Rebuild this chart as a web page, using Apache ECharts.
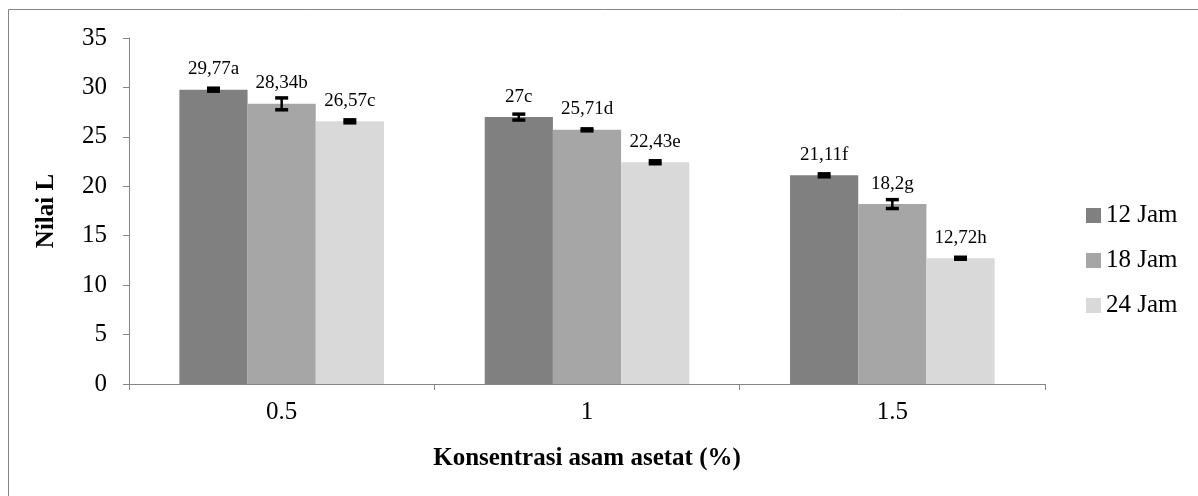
<!DOCTYPE html>
<html>
<head>
<meta charset="utf-8">
<script src="https://cdn.jsdelivr.net/npm/echarts@6/dist/echarts.min.js"></script>
<style>html,body{margin:0;padding:0;background:#fff}#c{width:1198px;height:496px}</style>
</head>
<body>
<div id="c"></div>
<script>
const categories = ['0.5', '1', '1.5'];
const seriesNames = ['12 Jam', '18 Jam', '24 Jam'];
const values12 = [29.77, 27, 21.11];
const values18 = [28.34, 25.71, 18.2];
const values24 = [26.57, 22.43, 12.72];
const errors12 = [0.15, 0.3, 0.15];
const errors18 = [0.6, 0.1, 0.45];
const errors24 = [0.15, 0.15, 0.1];
const labels12 = ['29,77a', '27c', '21,11f'];
const labels18 = ['28,34b', '25,71d', '18,2g'];
const labels24 = ['26,57c', '22,43e', '12,72h'];
const yTicks = [0, 5, 10, 15, 20, 25, 30, 35];

const colors = ['#808080', '#a6a6a6', '#d9d9d9'];
const values = [values12, values18, values24];
const errors = [errors12, errors18, errors24];
const labels = [labels12, labels18, labels24];
const font = '"Liberation Serif", "Times New Roman", serif';
const catGap = 0.33;

const chart = echarts.init(document.getElementById('c'));
const series = [];
seriesNames.forEach((name, i) => {
  series.push({
    name: name,
    type: 'bar',
    data: values[i],
    barGap: '0%',
    barCategoryGap: (catGap * 100) + '%',
    itemStyle: { color: colors[i] },
    label: {
      show: true,
      position: 'top',
      distance: 11,
      fontFamily: font,
      fontSize: 19,
      color: '#000',
      formatter: p => labels[i][p.dataIndex]
    }
  });
});
seriesNames.forEach((name, i) => {
  series.push({
    type: 'custom',
    name: name + ' err',
    z: 10,
    data: values[i].map((v, j) => [j, v, errors[i][j]]),
    renderItem: function (params, api) {
      const j = api.value(0), v = api.value(1), e = api.value(2);
      const cw = api.size([1, 0])[0];
      const bw = cw * (1 - catGap) / 3;
      const cx = api.coord([j, 0])[0] + (i - 1) * bw;
      const yHi = api.coord([j, v + e])[1];
      const yLo = api.coord([j, v - e])[1];
      const hw = 6.5;
      const style = { stroke: '#000', lineWidth: 3.5 };
      return {
        type: 'group',
        children: [
          { type: 'line', shape: { x1: cx, y1: yHi, x2: cx, y2: yLo }, style: { stroke: '#000', lineWidth: 2.5 } },
          { type: 'line', shape: { x1: cx - hw, y1: yHi, x2: cx + hw, y2: yHi }, style: style },
          { type: 'line', shape: { x1: cx - hw, y1: yLo, x2: cx + hw, y2: yLo }, style: style }
        ]
      };
    },
    encode: { x: 0, y: 1 },
    tooltip: { show: false }
  });
});

chart.setOption({
  animation: false,
  backgroundColor: '#fff',
  graphic: [{
    type: 'rect',
    shape: { x: 8.5, y: 9.5, width: 1250, height: 520 },
    style: { fill: 'none', stroke: '#868686', lineWidth: 1 },
    silent: true
  }],
  grid: { left: 129, right: 153, top: 38, bottom: 112 },
  legend: {
    data: seriesNames,
    orient: 'vertical',
    left: 1081,
    top: 198,
    itemWidth: 15,
    itemHeight: 15,
    itemGap: 20,
    icon: 'rect',
    textStyle: { fontFamily: font, fontSize: 25, color: '#000' }
  },
  xAxis: {
    type: 'category',
    data: categories,
    name: 'Konsentrasi asam asetat (%)',
    nameLocation: 'middle',
    nameGap: 62,
    nameTextStyle: { fontFamily: font, fontSize: 25, fontWeight: 'bold', color: '#000' },
    axisLine: { lineStyle: { color: '#868686', width: 1 } },
    axisTick: { show: true, length: 6, lineStyle: { color: '#868686' }, alignWithLabel: false },
    axisLabel: { fontFamily: font, fontSize: 25, color: '#000', margin: 16 }
  },
  yAxis: {
    type: 'value',
    min: 0,
    max: 35,
    interval: 5,
    name: 'Nilai L',
    nameLocation: 'middle',
    nameGap: 70,
    nameRotate: 90,
    nameTextStyle: { fontFamily: font, fontSize: 25, fontWeight: 'bold', color: '#000' },
    axisLine: { show: true, lineStyle: { color: '#868686', width: 1 } },
    axisTick: { show: true, length: 6, lineStyle: { color: '#868686' } },
    splitLine: { show: false },
    axisLabel: { fontFamily: font, fontSize: 25, color: '#000', margin: 22,
      formatter: v => yTicks.includes(v) ? String(v) : '' }
  },
  series: series
});
</script>
</body>
</html>
